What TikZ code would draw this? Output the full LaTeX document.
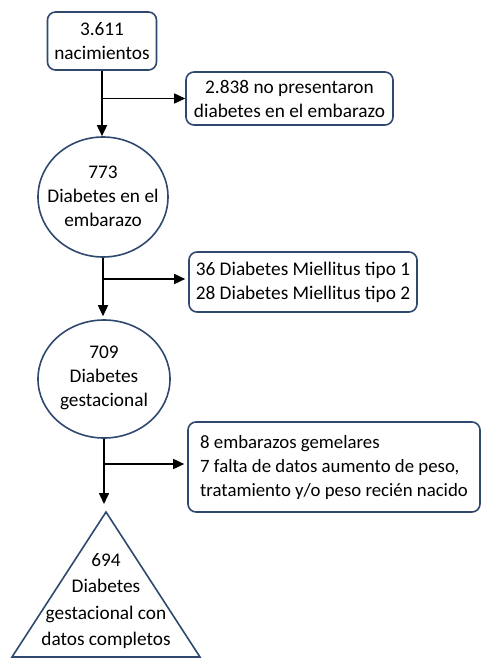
\documentclass[tikz,border=0pt]{standalone}
\usepackage{fontspec}
\setmainfont{Carlito}
\usetikzlibrary{shapes.geometric,arrows.meta}
\definecolor{navy}{RGB}{47,72,110}
\begin{document}
\begin{tikzpicture}[x=1pt,y=-1pt,
  every node/.style={font=\fontsize{19.3}{24}\selectfont, text=black},
  rbox/.style={draw=navy, line width=1.6pt, rounded corners=8pt, align=center, inner sep=0pt},
  ell/.style={draw=navy, line width=1.6pt, ellipse, inner sep=0pt},
  txt/.style={align=center, inner sep=0pt},
  conn/.style={line width=1.6pt, -{Triangle[length=11pt,width=10pt]}}]
\useasboundingbox (0,0) rectangle (483,658);
\node[rbox, minimum width=109pt, minimum height=58pt] (n1) at (102,41) {3.611\\nacimientos};
\node[rbox, minimum width=207pt, minimum height=53pt] (n2) at (289.5,98.5) {2.838 no presentaron\\diabetes en el embarazo};
\node[ell, minimum width=130pt, minimum height=120pt] (c1) at (103,197) {};
\node[txt] (c1t) at (103,196) {773\\Diabetes en el\\embarazo};
\node[rbox, minimum width=228pt, minimum height=60pt] (n3) at (303,282) {36 Diabetes Miellitus tipo 1\\28 Diabetes Miellitus tipo 2};
\node[ell, minimum width=132pt, minimum height=118pt] (c2) at (104,379) {};
\node[txt] (c2t) at (104,378) {709\\Diabetes\\gestacional};
\node[rbox, minimum width=292pt, minimum height=90pt, align=left, font=\fontsize{18.8}{24}\selectfont] (n4) at (334,467) {8 embarazos gemelares\\7 falta de datos aumento de peso,\\tratamiento y/o peso recién nacido};
\coordinate (ta) at (106,512);
\coordinate (tl) at (12,657);
\coordinate (tr) at (200,657);
\draw[navy, line width=1.6pt, line join=miter] (ta) -- (tl) -- (tr) -- cycle;
\node[txt, font=\fontsize{19.3}{26.5}\selectfont] (t) at (106,601) {694\\Diabetes\\gestacional con\\datos completos};
% connectors
\draw[conn] (n1.south) -- (n1.south |- c1.north);
\draw[conn] (n1.south |- n2.west) -- (n2.west);
\draw[conn, shorten >=3pt] (c1.south) -- (c1.south |- c2.north);
\draw[conn, shorten >=3pt] ([yshift=3pt]c1.south |- n3.west) -- ([yshift=3pt]n3.west);
\draw[conn, shorten >=8pt] (c2.south) -- (c2.south |- ta);
\draw[conn, shorten >=3pt] ([yshift=3pt]c2.south |- n4.west) -- ([yshift=3pt]n4.west);
\end{tikzpicture}
\end{document}
